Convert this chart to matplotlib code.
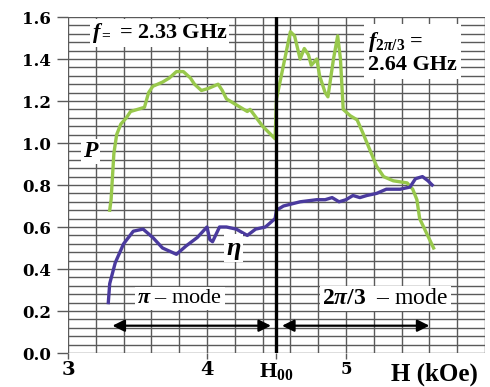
"""Power P and efficiency eta vs magnetic field H (graph-paper style)."""

import matplotlib
matplotlib.use("Agg")
import matplotlib.pyplot as plt
from matplotlib.ticker import MultipleLocator

plt.rcParams["mathtext.fontset"] = "custom"
plt.rcParams["mathtext.rm"] = "Liberation Serif:bold"
plt.rcParams["mathtext.bf"] = "Liberation Serif:bold"
plt.rcParams["mathtext.it"] = "Liberation Serif:italic:bold"

# P (output power), green curve
p_h = [3.30, 3.31, 3.33, 3.35, 3.38, 3.42, 3.45, 3.50, 3.55, 3.58, 3.61, 3.68,
       3.73, 3.78, 3.83, 3.88, 3.91, 3.96, 4.01, 4.08, 4.11, 4.14, 4.19, 4.29,
       4.31, 4.40, 4.49, 4.50, 4.55, 4.60, 4.63, 4.67, 4.70, 4.73, 4.75, 4.79,
       4.81, 4.85, 4.87, 4.91, 4.94, 4.96, 4.98, 5.03, 5.08, 5.12, 5.17, 5.22,
       5.27, 5.34, 5.44, 5.48, 5.51, 5.53, 5.58, 5.63]
p_val = [0.68, 0.73, 0.95, 1.04, 1.09, 1.12, 1.15, 1.16, 1.17, 1.24, 1.27, 1.29,
         1.31, 1.34, 1.34, 1.31, 1.28, 1.25, 1.26, 1.28, 1.25, 1.21, 1.19, 1.15,
         1.16, 1.08, 1.02, 1.21, 1.37, 1.53, 1.51, 1.40, 1.45, 1.42, 1.37, 1.40,
         1.32, 1.24, 1.22, 1.40, 1.51, 1.40, 1.16, 1.13, 1.11, 1.05, 0.97, 0.89,
         0.84, 0.82, 0.81, 0.78, 0.73, 0.64, 0.57, 0.50]

# eta (efficiency), purple curve
eta_h = [3.29, 3.30, 3.34, 3.40, 3.47, 3.54, 3.61, 3.68, 3.78, 3.85, 3.93, 4.00,
         4.02, 4.04, 4.09, 4.14, 4.21, 4.29, 4.35, 4.42, 4.49, 4.50, 4.55, 4.67,
         4.79, 4.85, 4.90, 4.95, 5.00, 5.05, 5.10, 5.15, 5.22, 5.29, 5.39, 5.46,
         5.50, 5.55, 5.59, 5.62]
eta_val = [0.24, 0.33, 0.43, 0.52, 0.58, 0.59, 0.55, 0.50, 0.47, 0.51, 0.55, 0.60,
           0.54, 0.53, 0.60, 0.60, 0.59, 0.56, 0.59, 0.60, 0.64, 0.68, 0.70, 0.72,
           0.73, 0.73, 0.74, 0.72, 0.73, 0.75, 0.74, 0.75, 0.76, 0.78, 0.78, 0.79,
           0.83, 0.84, 0.82, 0.80]

h00 = 4.5
x_ticks = [3, 4, h00, 5]
x_labels = ["3", "4", r"$\mathbf{H}_{00}$", "5"]
y_ticks = [0.0, 0.2, 0.4, 0.6, 0.8, 1.0, 1.2, 1.4, 1.6]

serif = "DejaVu Serif"
times = "Liberation Serif"

fig = plt.figure(figsize=(4.9, 3.87), dpi=100)
ax = fig.add_axes([68 / 490, 1 - 353 / 387, 417 / 490, 336 / 387])
ax.set_xlim(3, 6)
ax.set_ylim(0, 1.6)

# graph-paper grid
ax.xaxis.set_minor_locator(MultipleLocator(0.2))
ax.yaxis.set_minor_locator(MultipleLocator(0.04))
ax.grid(which="both", color="#5a5a5a", lw=1.0)
ax.set_axisbelow(True)
for s in ax.spines.values():
    s.set_visible(False)

ax.set_xticks(x_ticks)
ax.set_xticklabels(x_labels, fontsize=14, fontweight="bold", family=serif)
xl = ax.get_xticklabels()
xl[2].set_fontsize(16)
xl[2].set_family(times)
xl[3].set_fontsize(12)
ax.set_yticks(y_ticks)
ax.set_yticklabels([f"{v:.1f}" for v in y_ticks], fontsize=12,
                   fontweight="bold", family=serif)
ax.tick_params(which="major", axis="y", length=8, width=1.0, color="#5a5a5a", pad=4)
ax.tick_params(which="major", axis="x", length=4, width=1.0, color="#5a5a5a", pad=2)
ax.tick_params(which="minor", length=0)

ax.plot(p_h, p_val, color="#98c84c", lw=2.4, zorder=3, solid_joinstyle="round")
ax.plot(eta_h, eta_val, color="#4a3a9e", lw=2.4, zorder=3, solid_joinstyle="round")

ax.axvline(h00, color="black", lw=2.4, zorder=4)

box = dict(facecolor="white", edgecolor="none", pad=1.5)
ax.text(3.17, 1.525, r"$f_{=}$ = 2.33 GHz", fontsize=16, fontweight="bold",
        family=times, ha="left", va="center", bbox=box, zorder=5)
ax.text(5.16, 1.43, "$f_{2\\pi/3}$ =\n2.64 GHz", fontsize=16, fontweight="bold",
        family=times, ha="left", va="center", linespacing=1.05,
        bbox=dict(facecolor="white", edgecolor="none", pad=3), zorder=5)
ax.text(3.16, 0.96, "P", fontsize=17, fontweight="bold", fontstyle="italic",
        family=times, ha="center", va="center", bbox=box, zorder=5)
ax.text(4.19, 0.50, "η", fontsize=19, fontweight="bold", fontstyle="italic",
        family=times, ha="center", va="center", bbox=box, zorder=5)

ax.text(3.50, 0.26, r"$\pi$ – mode", fontsize=16, family=times,
        ha="left", va="center", bbox=box, zorder=5)
ax.text(4.83, 0.26, r"$2\pi/3$  – mode", fontsize=17, family=times,
        ha="left", va="center", bbox=box, zorder=5)

arrow = dict(arrowstyle="<|-|>", color="black", lw=1.6, mutation_scale=18)
ax.annotate("", xy=(3.30, 0.13), xytext=(4.48, 0.13), arrowprops=arrow, zorder=5)
ax.annotate("", xy=(4.52, 0.13), xytext=(5.62, 0.13), arrowprops=arrow, zorder=5)

fig.text(434 / 490, 1 - 374 / 387, "H (kOe)", fontsize=18, fontweight="bold",
         family=times, ha="center", va="center")

fig.savefig("out.png", dpi=100)
